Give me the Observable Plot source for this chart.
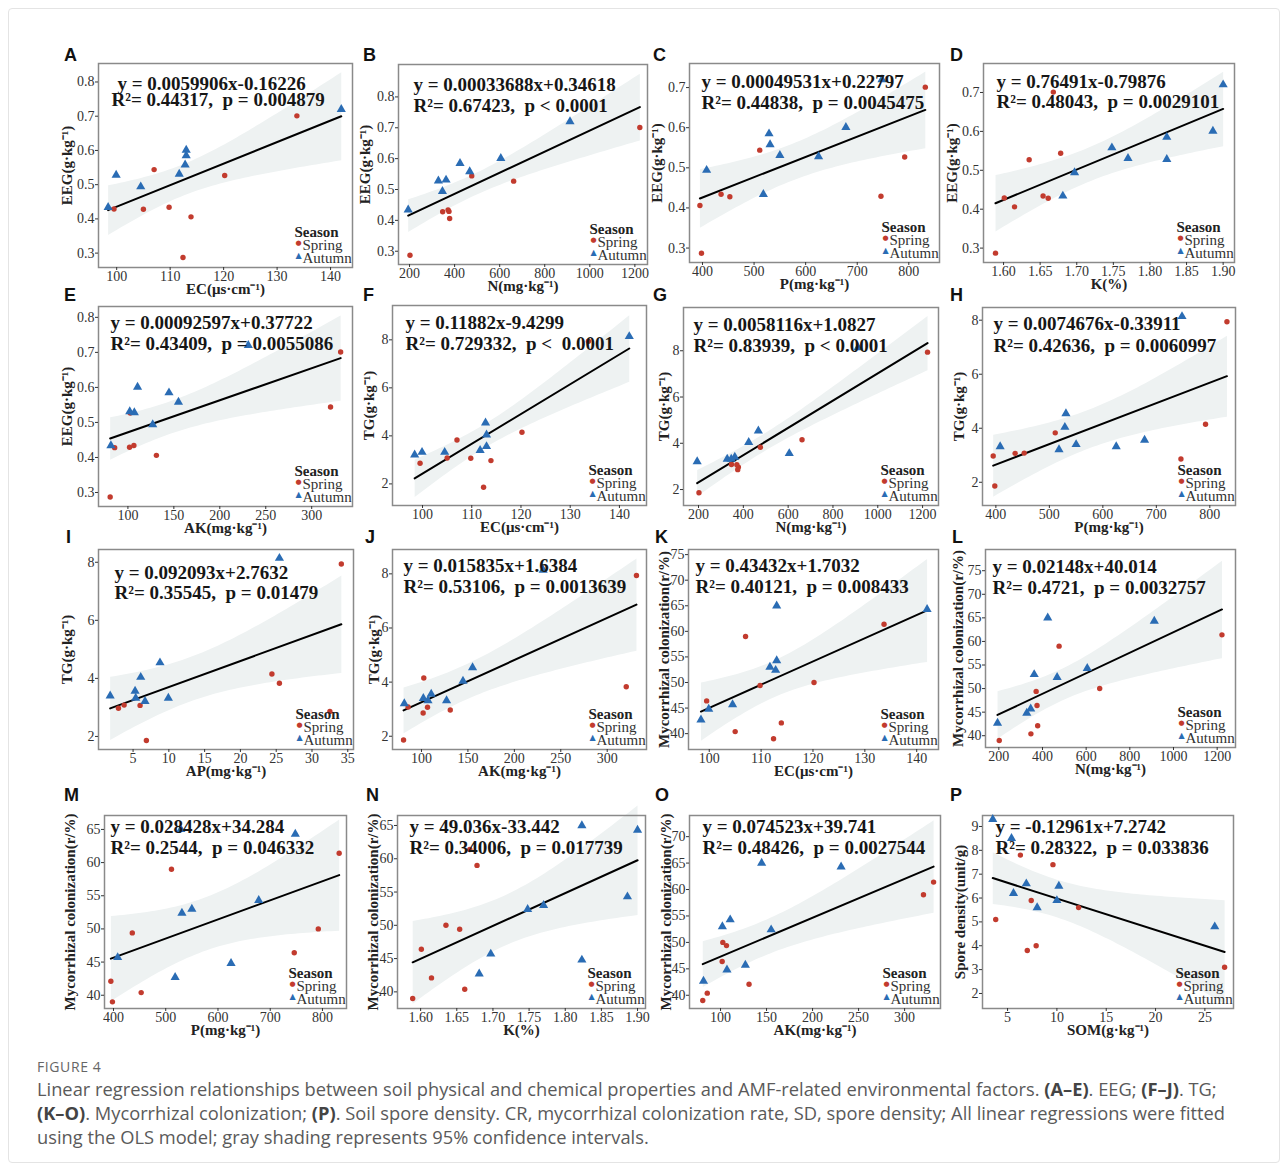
<!DOCTYPE html>
<html>
<head>
<meta charset="utf-8">
<script src="https://cdn.jsdelivr.net/npm/d3@7"></script>
<script src="https://cdn.jsdelivr.net/npm/@observablehq/plot@0.6"></script>
<style>
  html, body { margin: 0; padding: 0; background: #fff; }
  #fig { position: relative; width: 1288px; height: 1171px; overflow: hidden; }
  #box { position: absolute; left: 8px; top: 8px; width: 1270px; height: 1153px; border: 1px solid #e4e4e4; border-radius: 4px; }
  .panel { position: absolute; }
  .letter { position: absolute; font-family: "Liberation Sans", Arial, sans-serif; font-weight: bold; font-size: 18px; color: #111; line-height: 1; }
  #figlabel { position: absolute; left: 37px; top: 1057px; font-family: "Open Sans", sans-serif; font-size: 14px; color: #666; letter-spacing: 0.6px; }
  #caption { position: absolute; left: 37px; top: 1077px; width: 1240px; font-family: "Open Sans", sans-serif; font-size: 18.3px; line-height: 24px; color: #5a5a5a; white-space: nowrap; }
  #caption b { color: #444; }
</style>
</head>
<body>
<div id="fig"><div id="box"></div></div>
<script>
// ---------------- data ----------------
const seasons = ["Spring", "Autumn"];
const springEC  = [112.4, 113.9, 99.5, 105.0, 109.8, 120.2, 107.0, 133.7];
const autumnEC  = [98.4, 99.9, 104.5, 111.7, 112.8, 113.0, 113.0, 142.0];
const springN   = [202, 378, 375, 347, 371, 662, 476, 1222];
const autumnN   = [194, 328, 346, 362, 467, 424, 605, 912];
const springP   = [398, 395, 746, 453, 436, 792, 511, 832];
const autumnP   = [518, 625, 408, 550, 531, 529, 678, 748];
const springK   = [1.589, 1.615, 1.601, 1.661, 1.654, 1.635, 1.678, 1.668];
const autumnK   = [1.681, 1.823, 1.697, 1.770, 1.748, 1.823, 1.886, 1.900];
const springAK  = [80.7, 131.0, 101.8, 85.6, 106.5, 102.5, 320.5, 331.5];
const autumnAK  = [81.5, 107.0, 127.0, 102.0, 155.0, 144.7, 110.5, 231.0];
const springAP  = [6.86, 2.96, 32.5, 3.75, 5.98, 24.4, 25.45, 34.1];
const autumnAP  = [6.67, 5.37, 9.93, 1.8, 8.76, 6.07, 5.28, 25.45];
const springEEG = [0.287, 0.406, 0.429, 0.428, 0.434, 0.527, 0.544, 0.701];
const autumnEEG = [0.434, 0.528, 0.494, 0.531, 0.558, 0.585, 0.601, 0.720];
const springTG  = [1.86, 2.97, 2.86, 3.08, 3.07, 4.15, 3.83, 7.94];
const autumnTG  = [3.21, 3.32, 3.32, 3.40, 4.54, 4.04, 3.56, 8.14];
const springMC  = [39.0, 42.1, 46.4, 40.4, 49.4, 50.0, 59.0, 61.4];
const autumnMC  = [42.7, 44.8, 45.7, 53.0, 52.4, 65.0, 54.3, 64.3];
const springSOM = [3.8, 6.3, 7.0, 7.4, 7.9, 9.6, 12.2, 27.0];
const springSD  = [5.1, 7.8, 3.8, 5.9, 4.0, 7.4, 5.6, 3.1];
const autumnSOM = [3.5, 5.4, 5.6, 6.9, 8.0, 10.2, 10.0, 26.0];
const autumnSD  = [9.3, 8.5, 6.2, 6.6, 5.6, 6.5, 5.9, 4.8];

const panelLetters = ["A","B","C","D","E","F","G","H","I","J","K","L","M","N","O","P"];
const equations = [
  "y = 0.0059906x-0.16226", "y = 0.00033688x+0.34618", "y = 0.00049531x+0.22797", "y = 0.76491x-0.79876",
  "y = 0.00092597x+0.37722", "y = 0.11882x-9.4299", "y = 0.0058116x+1.0827", "y = 0.0074676x-0.33911",
  "y = 0.092093x+2.7632", "y = 0.015835x+1.6384", "y = 0.43432x+1.7032", "y = 0.02148x+40.014",
  "y = 0.028428x+34.284", "y = 49.036x-33.442", "y = 0.074523x+39.741", "y = -0.12961x+7.2742"
];
const fitStats = [
  "R²= 0.44317,\u00a0 p = 0.004879", "R²= 0.67423,\u00a0 p < 0.0001", "R²= 0.44838,\u00a0 p = 0.0045475", "R²= 0.48043,\u00a0 p = 0.0029101",
  "R²= 0.43409,\u00a0 p = 0.0055086", "R²= 0.729332,\u00a0 p <\u00a0 0.0001", "R²= 0.83939,\u00a0 p < 0.0001", "R²= 0.42636,\u00a0 p = 0.0060997",
  "R²= 0.35545,\u00a0 p = 0.01479", "R²= 0.53106,\u00a0 p = 0.0013639", "R²= 0.40121,\u00a0 p = 0.008433", "R²= 0.4721,\u00a0 p = 0.0032757",
  "R²= 0.2544,\u00a0 p = 0.046332", "R²= 0.34006,\u00a0 p = 0.017739", "R²= 0.48426,\u00a0 p = 0.0027544", "R²= 0.28322,\u00a0 p = 0.033836"
];
const xLabels = {EC: "EC(μs·cm⁻¹)", N: "N(mg·kg⁻¹)", P: "P(mg·kg⁻¹)", K: "K(%)", AK: "AK(mg·kg⁻¹)", AP: "AP(mg·kg⁻¹)", SOM: "SOM(g·kg⁻¹)"};
const yLabels = {EEG: "EEG(g·kg⁻¹)", TG: "TG(g·kg⁻¹)", MC: "Mycorrhizal colonization(r/%)", SD: "Spore density(unit/g)"};
const vars = {
  EC: [springEC, autumnEC], N: [springN, autumnN], P: [springP, autumnP], K: [springK, autumnK],
  AK: [springAK, autumnAK], AP: [springAP, autumnAP], SOM: [springSOM, autumnSOM],
  EEG: [springEEG, autumnEEG], TG: [springTG, autumnTG], MC: [springMC, autumnMC], SD: [springSD, autumnSD]
};
const xTicks = {
  EC: [100,110,120,130,140], N: [200,400,600,800,1000,1200], P: [400,500,600,700,800],
  K: [1.60,1.65,1.70,1.75,1.80,1.85,1.90], AK: [100,150,200,250,300], AP: [5,10,15,20,25,30,35], SOM: [5,10,15,20,25]
};

// ---------------- layout (frame position / size, scale domains, text offsets) ----------------
const layout = [
  {xv:"EC", yv:"EEG", fx:98,  fy:63,  fw:254, fh:204, xd:[96.6,144.1], yd:[0.258,0.854], yt:[0.3,0.4,0.5,0.6,0.7,0.8], yoff:31, eq:[19,26,13,42]},
  {xv:"N",  yv:"EEG", fx:398, fy:64,  fw:249, fh:200, xd:[151,1256],   yd:[0.257,0.905], yt:[0.3,0.4,0.5,0.6,0.7,0.8], yoff:33, eq:[15,26,15,47]},
  {xv:"P",  yv:"EEG", fx:689, fy:63,  fw:250, fh:199, xd:[374.8,859.5], yd:[0.264,0.76], yt:[0.3,0.4,0.5,0.6,0.7], yoff:32, eq:[12,24,12,45]},
  {xv:"K",  yv:"EEG", fx:983, fy:63,  fw:251, fh:199, xd:[1.5726,1.9155], yd:[0.263,0.7745], yt:[0.3,0.4,0.5,0.6,0.7], yoff:31, eq:[13,24,13,44]},
  {xv:"AK", yv:"EEG", fx:98,  fy:306, fw:254, fh:200, xd:[68,344.4],   yd:[0.26,0.831], yt:[0.3,0.4,0.5,0.6,0.7,0.8], yoff:31, eq:[12,22,12,43]},
  {xv:"EC", yv:"TG",  fx:392, fy:305, fw:254, fh:200, xd:[93.9,145.5], yd:[1.1,9.43], yt:[2,4,6,8], yoff:23, eq:[13,23,13,44]},
  {xv:"N",  yv:"TG",  fx:683, fy:307, fw:255, fh:198, xd:[133,1271],   yd:[1.31,9.87], yt:[2,4,6,8], yoff:19, eq:[10,23,10,44]},
  {xv:"P",  yv:"TG",  fx:982, fy:307, fw:253, fh:198, xd:[375,848],    yd:[1.14,8.47], yt:[2,4,6,8], yoff:23, eq:[11,22,11,44]},
  {xv:"AP", yv:"TG",  fx:98,  fy:549, fw:255, fh:200, xd:[0.17,35.8],  yd:[1.55,8.44], yt:[2,4,6,8], yoff:31, eq:[16,29,16,49]},
  {xv:"AK", yv:"TG",  fx:392, fy:549, fw:254, fh:200, xd:[68.8,342.3], yd:[1.51,8.9], yt:[2,4,6,8], yoff:18, eq:[11,22,11,43]},
  {xv:"EC", yv:"MC",  fx:688, fy:549, fw:250, fh:200, xd:[96.0,144.2], yd:[36.9,76.0], yt:[40,45,50,55,60,65,70,75], yoff:24, eq:[7,22,7,43]},
  {xv:"N",  yv:"MC",  fx:985, fy:549, fw:250, fh:198, xd:[139,1284],   yd:[37.5,79.5], yt:[40,45,50,55,60,65,70,75], yoff:27, eq:[7,23,7,44]},
  {xv:"P",  yv:"MC",  fx:104, fy:815, fw:242, fh:193, xd:[382.8,846],  yd:[38.0,67.1], yt:[40,45,50,55,60,65], yoff:34, eq:[6,17,6,38]},
  {xv:"K",  yv:"MC",  fx:397, fy:815, fw:248, fh:193, xd:[1.568,1.911], yd:[37.5,66.5], yt:[40,45,50,55,60,65], yoff:24, eq:[12,17,12,38]},
  {xv:"AK", yv:"MC",  fx:689, fy:815, fw:251, fh:193, xd:[66.3,339],   yd:[37.5,74], yt:[40,45,50,55,60,65,70], yoff:23, eq:[13,17,13,38]},
  {xv:"SOM",yv:"SD",  fx:982, fy:815, fw:251, fh:193, xd:[2.46,27.9],  yd:[1.37,9.46], yt:[2,3,4,5,6,7,8,9], yoff:22, eq:[13,17,13,38]}
];
const letterPos = [[64,46],[363,46],[653,46],[950,46],[64,286],[363,286],[653,286],[950,286],[66,528],[365,528],[655,528],[952,528],[64,786],[366,786],[655,786],[950,786]];

const RED = "#c23b2e", BLUE = "#2a6cb4";
const serif = "'Liberation Serif', 'Times New Roman', Times, serif";
const fig = document.getElementById("fig");

layout.forEach((p, i) => {
  const [sx, ax] = vars[p.xv];
  const [sy, ay] = vars[p.yv];
  const spring = sx.map((v, j) => ({x: v, y: sy[j], season: seasons[0]}));
  const autumn = ax.map((v, j) => ({x: v, y: ay[j], season: seasons[1]}));
  const all = spring.concat(autumn);
  const ml = 50, mr = 16, mt = 8, mb = 40;
  const xFmt = (p.xv === "K") ? d3.format(".2f") : d3.format("d");
  const yFmt = (p.yv === "EEG") ? d3.format(".1f") : d3.format("d");
  const chart = Plot.plot({
    width: p.fw + ml + mr, height: p.fh + mt + mb,
    marginLeft: ml, marginRight: mr, marginTop: mt, marginBottom: mb,
    x: {domain: p.xd},
    y: {domain: p.yd},
    style: {fontFamily: serif, fontSize: "14px", color: "#333", background: "transparent", overflow: "visible"},
    marks: [
      Plot.linearRegressionY(all, {x: "x", y: "y", stroke: "#000", strokeWidth: 2, fill: "#eef2f2", fillOpacity: 1, ci: 0.95}),
      Plot.frame({stroke: "#8a8a8a", strokeWidth: 1.5}),
      Plot.dot(spring, {x: "x", y: "y", r: 2.7, fill: RED}),
      Plot.dot(autumn, {x: "x", y: "y", r: 3.4, symbol: "triangle", fill: BLUE}),
      Plot.axisX({ticks: xTicks[p.xv], tickFormat: xFmt, tickSize: 3, tickPadding: 1, label: null, fontSize: 14}),
      Plot.axisY({ticks: p.yt, tickFormat: yFmt, tickSize: 3, tickPadding: 1, label: null, fontSize: 14}),
      Plot.text([xLabels[p.xv]], {text: d => d, frameAnchor: "bottom", dy: 26, textAnchor: "middle", lineAnchor: "bottom", fontWeight: "bold", fontSize: 15, fill: "#222"}),
      Plot.text([yLabels[p.yv]], {text: d => d, frameAnchor: "left", dx: -p.yoff, rotate: -90, textAnchor: "middle", lineAnchor: "middle", fontWeight: "bold", fontSize: 15, fill: "#222"}),
      Plot.text([equations[i]], {text: d => d, frameAnchor: "top-left", dx: p.eq[0], dy: p.eq[1], textAnchor: "start", lineAnchor: "bottom", fontWeight: "bold", fontSize: 19, fill: "#161616"}),
      Plot.text([fitStats[i]], {text: d => d, frameAnchor: "top-left", dx: p.eq[2], dy: p.eq[3], textAnchor: "start", lineAnchor: "bottom", fontWeight: "bold", fontSize: 19, fill: "#161616"}),
      Plot.text(["Season"], {text: d => d, frameAnchor: "bottom-right", dx: -58, dy: -31, textAnchor: "start", lineAnchor: "bottom", fontWeight: "bold", fontSize: 15, fill: "#222"}),
      Plot.text([seasons[0]], {text: d => d, frameAnchor: "bottom-right", dx: -50, dy: -18, textAnchor: "start", lineAnchor: "bottom", fontSize: 15, fill: "#333"}),
      Plot.text([seasons[1]], {text: d => d, frameAnchor: "bottom-right", dx: -50, dy: -5, textAnchor: "start", lineAnchor: "bottom", fontSize: 15, fill: "#333"}),
      Plot.text(["●"], {text: d => d, frameAnchor: "bottom-right", dx: -54, dy: -23, textAnchor: "middle", fontSize: 7, fill: RED, fontFamily: "DejaVu Sans"}),
      Plot.text(["▲"], {text: d => d, frameAnchor: "bottom-right", dx: -54, dy: -10, textAnchor: "middle", fontSize: 8, fill: BLUE, fontFamily: "DejaVu Sans"})
    ]
  });
  const wrap = document.createElement("div");
  wrap.className = "panel";
  wrap.style.left = (p.fx - ml) + "px";
  wrap.style.top = (p.fy - mt) + "px";
  wrap.appendChild(chart);
  fig.appendChild(wrap);

  const lt = document.createElement("div");
  lt.className = "letter";
  lt.textContent = panelLetters[i];
  lt.style.left = letterPos[i][0] + "px";
  lt.style.top = letterPos[i][1] + "px";
  fig.appendChild(lt);
});

const figLabel = document.createElement("div");
figLabel.id = "figlabel";
figLabel.textContent = "FIGURE 4";
fig.appendChild(figLabel);

const cap = document.createElement("div");
cap.id = "caption";
cap.innerHTML = "Linear regression relationships between soil physical and chemical properties and AMF-related environmental factors. <b>(A–E)</b>. EEG; <b>(F–J)</b>. TG;<br>" +
  "<b>(K–O)</b>. Mycorrhizal colonization; <b>(P)</b>. Soil spore density. CR, mycorrhizal colonization rate, SD, spore density; All linear regressions were fitted<br>" +
  "using the OLS model; gray shading represents 95% confidence intervals.";
fig.appendChild(cap);
</script>
</body>
</html>
